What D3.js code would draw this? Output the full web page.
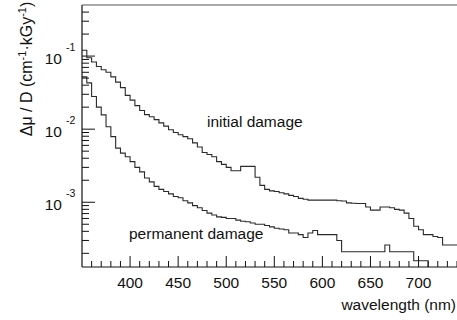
<!DOCTYPE html>
<html>
<head>
<meta charset="utf-8">
<script src="https://cdn.jsdelivr.net/npm/d3@7"></script>
<style>
  body { margin: 0; background: #fff; }
  text { font-family: "Liberation Sans", Arial, Helvetica, sans-serif; fill: #111; }
</style>
</head>
<body>
<svg id="chart" width="457" height="320"></svg>
<script>
// histogram bins, 5 nm wide, first bin starts at 350 nm
const binWidth = 5;
const binStart = 350;

const initialDamage = [
  0.12, 0.095, 0.083, 0.072, 0.065, 0.060, 0.052, 0.044, 0.037, 0.029,
  0.025, 0.021, 0.018, 0.0158, 0.0148, 0.0135, 0.0122, 0.011, 0.0098, 0.009,
  0.0084, 0.0079, 0.0074, 0.0065, 0.0057, 0.0048, 0.0045, 0.0042, 0.0036, 0.0033,
  0.0030, 0.0027, 0.0027, 0.0031, 0.0031, 0.0031, 0.0022, 0.0017, 0.0015, 0.00143,
  0.0014, 0.00135, 0.0013, 0.00124, 0.0012, 0.00113, 0.0011, 0.00107, 0.00107, 0.00107,
  0.00107, 0.00107, 0.00107, 0.00105, 0.00104, 0.00098, 0.00097, 0.00096, 0.00096, 0.00086,
  0.00078, 0.00078, 0.00086, 0.00086, 0.00084, 0.0008, 0.00078, 0.00071, 0.0006, 0.00047,
  0.00042, 0.00036, 0.00036, 0.00034, 0.00033, 0.00026, 0.00026, 0.00026
];

const permanentDamage = [
  0.052, 0.043, 0.028, 0.020, 0.0157, 0.0108, 0.0079, 0.0055, 0.0047, 0.0042,
  0.0036, 0.003, 0.0026, 0.00215, 0.0019, 0.00165, 0.0015, 0.0014, 0.0013, 0.0012,
  0.00115, 0.00105, 0.00098, 0.0009, 0.00084, 0.00077, 0.00071, 0.00067, 0.00063, 0.00062,
  0.0006, 0.0006, 0.00057, 0.00055, 0.00054, 0.00052, 0.0005, 0.0005, 0.00048, 0.00046,
  0.00044, 0.00043, 0.00042, 0.00038, 0.00038, 0.00036, 0.00033, 0.00038, 0.00041, 0.00036,
  0.00036, 0.00036, 0.00036, 0.0003, 0.00021, 0.00021, 0.00021, 0.00021, 0.00021, 0.00021,
  0.00021, 0.00021, 0.00021, 0.00026, 0.00021, 0.00021, 0.00021, 0.00021, 0.00021, 0.000158,
  0.000158, 0.000158
];

const xLabels = [400, 450, 500, 550, 600, 650, 700];
const yDecades = [-1, -2, -3];

const svg = d3.select("#chart");
const pLeft = 82, pRight = 457, pTop = 5, pBottom = 267;

const x = d3.scaleLinear().domain([350, 740]).range([pLeft, pRight]);
const y = d3.scaleLog().domain([1.3e-4, 0.5]).range([pBottom, pTop]);

// clip for the curves
svg.append("clipPath").attr("id", "plot")
  .append("rect")
  .attr("x", pLeft).attr("y", pTop)
  .attr("width", pRight - pLeft).attr("height", pBottom - pTop);

function toPoints(vals, dropToAxis) {
  var pts = vals.map((v, i) => [binStart + i * binWidth, v]);
  var end = binStart + vals.length * binWidth;
  pts.push([end, dropToAxis ? 1e-5 : vals[vals.length - 1]]);
  return pts;
}

const line = d3.line()
  .x(d => x(d[0]))
  .y(d => y(d[1]))
  .curve(d3.curveStepAfter);

svg.append("path")
  .attr("d", line(toPoints(initialDamage, false)))
  .attr("fill", "none").attr("stroke", "#2a2a2a").attr("stroke-width", 1.1)
  .attr("clip-path", "url(#plot)");

svg.append("path")
  .attr("d", line(toPoints(permanentDamage, true)))
  .attr("fill", "none").attr("stroke", "#2a2a2a").attr("stroke-width", 1.1)
  .attr("clip-path", "url(#plot)");

// frame
const frame = svg.append("g").attr("stroke", "#111").attr("stroke-width", 1.2);
frame.append("line").attr("x1", pLeft).attr("x2", pRight).attr("y1", pBottom).attr("y2", pBottom);
frame.append("line").attr("x1", pLeft).attr("x2", pLeft).attr("y1", pTop).attr("y2", pBottom);
frame.append("line").attr("x1", pLeft).attr("x2", pRight).attr("y1", pTop).attr("y2", pTop)
  .attr("stroke", "#555");

// y ticks (log)
const yTicks = [];
for (let d = -4; d <= 0; d++) {
  for (let m = 1; m <= 9; m++) {
    const v = m * Math.pow(10, d);
    if (v > y.domain()[0] && v < y.domain()[1]) yTicks.push({v: v, major: m === 1});
  }
}
frame.selectAll(".yt").data(yTicks).enter().append("line")
  .attr("x1", pLeft).attr("x2", d => pLeft + (d.major ? 13 : 7))
  .attr("y1", d => y(d.v)).attr("y2", d => y(d.v))
  .attr("stroke-width", 1);

// x ticks
const xTicks = d3.range(360, 741, 10);
frame.selectAll(".xt").data(xTicks).enter().append("line")
  .attr("x1", d => x(d)).attr("x2", d => x(d))
  .attr("y1", pBottom).attr("y2", d => pBottom - (d % 50 === 0 ? 11 : 6))
  .attr("stroke-width", 1);

// x labels
svg.selectAll(".xl").data(xLabels).enter().append("text")
  .attr("x", d => x(d)).attr("y", 288)
  .attr("text-anchor", "middle").attr("font-size", 15.5)
  .text(d => d);

// y labels 10^n
const yl = svg.selectAll(".yl").data(yDecades).enter().append("g");
yl.append("text")
  .attr("x", 62).attr("y", d => y(Math.pow(10, d)) + 8)
  .attr("text-anchor", "end").attr("font-size", 15.5)
  .text("10");
yl.append("text")
  .attr("x", 66).attr("y", d => y(Math.pow(10, d)) - 5)
  .attr("font-size", 10.5)
  .text(d => String(d));

// axis titles
svg.append("text")
  .attr("x", 456).attr("y", 310)
  .attr("text-anchor", "end").attr("font-size", 15.5)
  .text("wavelength (nm)");

const yt = svg.append("text")
  .attr("transform", "translate(32,69) rotate(-90)")
  .attr("text-anchor", "middle").attr("font-size", 16);
yt.append("tspan").text("\u0394\u03bc / D (cm");
yt.append("tspan").attr("dy", -6).attr("font-size", 11).text("-1");
yt.append("tspan").attr("dy", 6).text("\u00b7kGy");
yt.append("tspan").attr("dy", -6).attr("font-size", 11).text("-1");
yt.append("tspan").attr("dy", 6).text(")");

// curve labels
svg.append("text").attr("x", 207).attr("y", 127).attr("font-size", 15.5).text("initial damage");
svg.append("text").attr("x", 129).attr("y", 239).attr("font-size", 15.5).text("permanent damage");
</script>
</body>
</html>
